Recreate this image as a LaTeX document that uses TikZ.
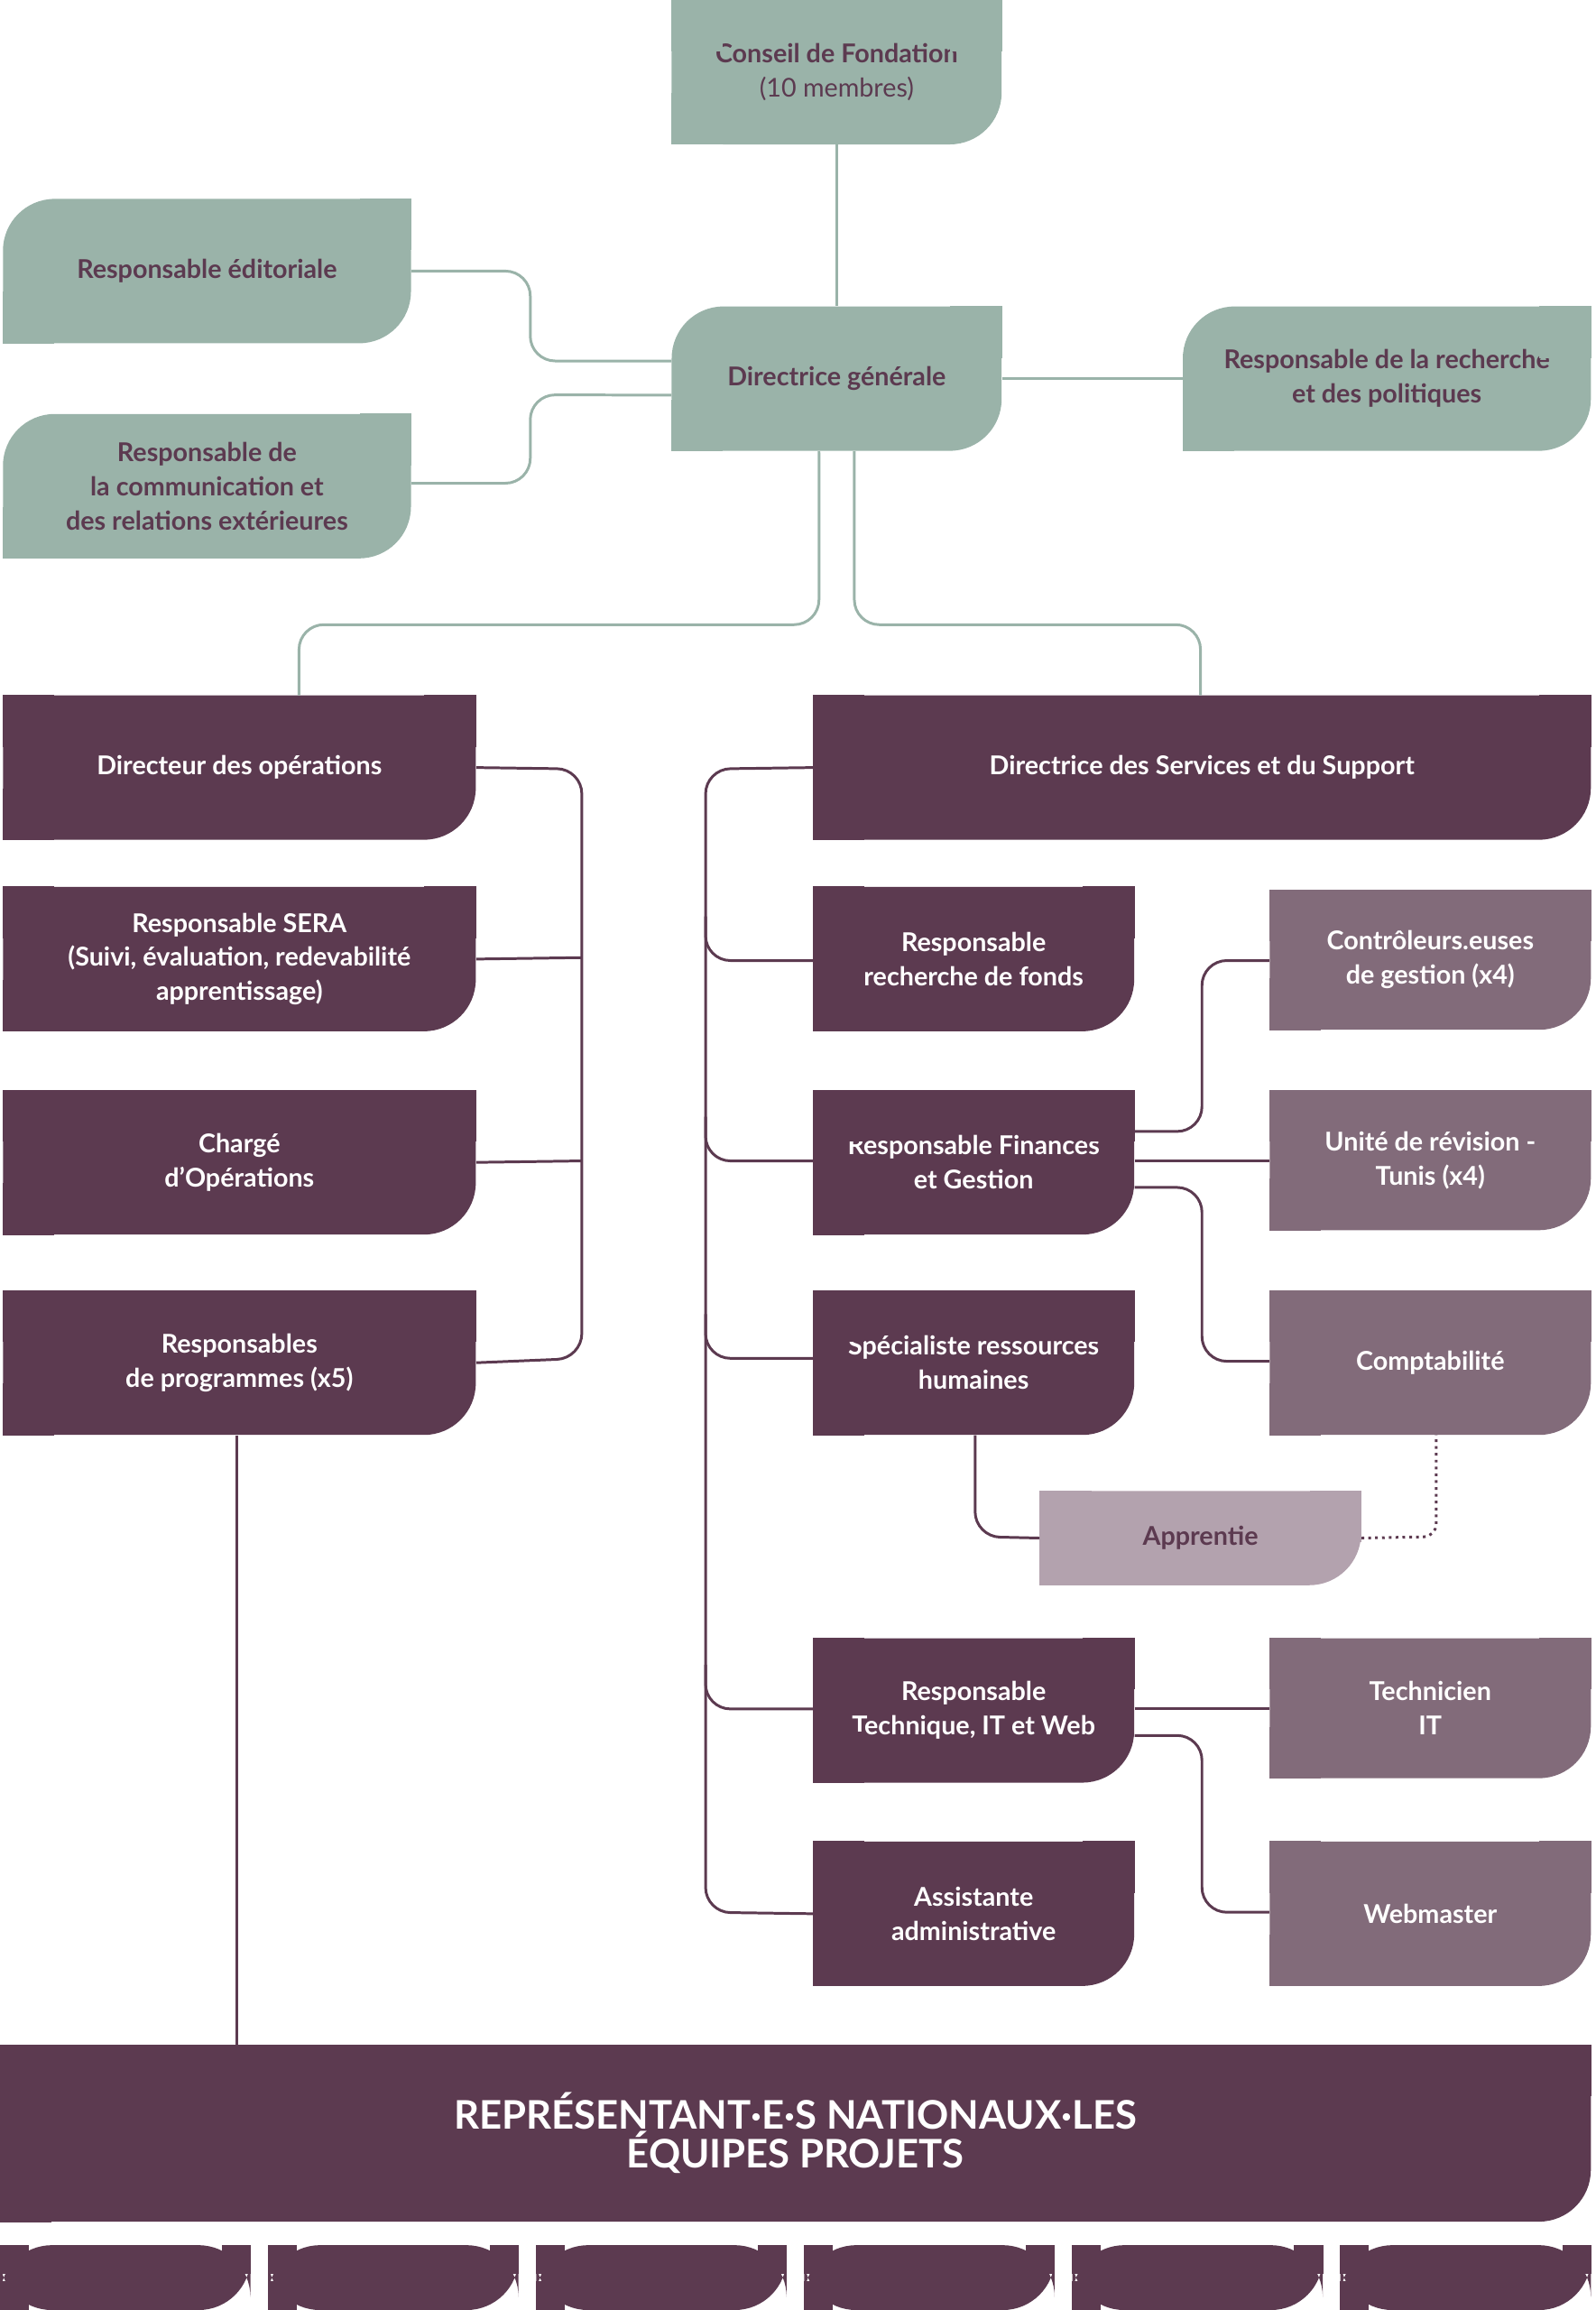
\documentclass[tikz,border=0pt]{standalone}
\usepackage{fontspec}
\setmainfont{Lato}
\usetikzlibrary{positioning}
\definecolor{vert}{HTML}{9AB3A9}
\definecolor{prune}{HTML}{5C3A50}
\definecolor{mauve}{HTML}{826B7A}
\definecolor{lilas}{HTML}{B3A2AE}
\tikzset{
  box/.style={rounded corners=25pt, inner sep=0pt, align=center, font=\bfseries\fontsize{12.5}{16.5}\selectfont},
  green/.style={box, fill=vert, text=prune},
  dark/.style={box, fill=prune, text=white},
  mid/.style={box, fill=mauve, text=white},
  light/.style={box, fill=lilas, text=prune},
  vlink/.style={draw=vert, line width=1.3pt, rounded corners=12pt},
  plink/.style={draw=prune, line width=1.3pt, rounded corners=12pt},
}
% name, x1, y1, x2, y2, style, text
\newcommand\orgnode[7]{%
  \node[#6, minimum width={(#4-#2)*0.025cm}, minimum height={(#5-#3)*0.025cm}]
    (#1) at ({(#2+#4)/2},{(#3+#5)/2}) {#7};}
% square corners: only bottom right stays round
\newcommand\squareall[3]{%
  \fill[#2] (#1.north west) rectangle ++(#3,-#3);
  \fill[#2] (#1.north east) rectangle ++(-#3,-#3);
  \fill[#2] (#1.south west) rectangle ++(#3,#3);}
% square corners: top left and bottom right stay round
\newcommand\squarepair[3]{%
  \fill[#2] (#1.north east) rectangle ++(-#3,-#3);
  \fill[#2] (#1.south west) rectangle ++(#3,#3);}
\begin{document}
\begin{tikzpicture}[x=0.025cm,y=-0.025cm]
  \useasboundingbox (0,0) rectangle (1083,1568);
  % direction
  \orgnode{conseil}{456}{0}{680}{98}{green}{Conseil de Fondation\\{\mdseries (10 membres)}}
  \orgnode{edito}{2}{135}{279}{233}{green}{Responsable éditoriale}
  \orgnode{dg}{456}{208}{680}{306}{green}{Directrice générale}
  \orgnode{recherche}{803}{208}{1080}{306}{green}{Responsable de la recherche\\et des politiques}
  \orgnode{comm}{2}{281}{279}{379}{green}{Responsable de\\la communication et\\des relations extérieures}
  \squareall{conseil}{vert}{25pt}
  \squarepair{edito}{vert}{25pt}
  \squarepair{dg}{vert}{25pt}
  \squarepair{recherche}{vert}{25pt}
  \squarepair{comm}{vert}{25pt}
  % operations
  \orgnode{dirops}{2}{472}{323}{570}{dark}{Directeur des opérations}
  \orgnode{sera}{2}{602}{323}{700}{dark}{Responsable SERA\\(Suivi, évaluation, redevabilité\\apprentissage)}
  \orgnode{charge}{2}{740}{323}{838}{dark}{Chargé\\d’Opérations}
  \orgnode{progs}{2}{876}{323}{974}{dark}{Responsables\\de programmes (x5)}
  % services
  \orgnode{dirserv}{552}{472}{1080}{570}{dark}{Directrice des Services et du Support}
  \orgnode{fonds}{552}{602}{770}{700}{dark}{Responsable\\recherche de fonds}
  \orgnode{finances}{552}{740}{770}{838}{dark}{Responsable Finances\\et Gestion}
  \orgnode{rh}{552}{876}{770}{974}{dark}{Spécialiste ressources\\humaines}
  \orgnode{tech}{552}{1112}{770}{1210}{dark}{Responsable\\Technique, IT et Web}
  \orgnode{assist}{552}{1250}{770}{1348}{dark}{Assistante\\administrative}
  \orgnode{controle}{862}{604}{1080}{699}{mid}{Contrôleurs.euses\\de gestion (x4)}
  \orgnode{revision}{862}{740}{1080}{835}{mid}{Unité de révision -\\Tunis (x4)}
  \orgnode{compta}{862}{876}{1080}{974}{mid}{Comptabilité}
  \orgnode{techit}{862}{1112}{1080}{1207}{mid}{Technicien\\IT}
  \orgnode{webm}{862}{1250}{1080}{1348}{mid}{Webmaster}
  \orgnode{apprentie}{706}{1012}{924}{1076}{light}{Apprentie}
  \foreach \n in {dirops,sera,charge,progs,dirserv,fonds,finances,rh,tech,assist}
    {\squareall{\n}{prune}{25pt}}
  \foreach \n in {controle,revision,compta,techit,webm}
    {\squareall{\n}{mauve}{25pt}}
  \squareall{apprentie}{lilas}{25pt}
  % equipes
  \orgnode{equipes}{0}{1388}{1080}{1508}{dark}{\fontsize{19}{27}\selectfont REPRÉSENTANT·E·S NATIONAUX·LES\\\fontsize{19}{27}\selectfont ÉQUIPES PROJETS}
  \squareall{equipes}{prune}{25pt}
  \foreach \x/\i in {0/1,182/2,364/3,546/4,728/5,910/6}{
    \orgnode{pays\i}{\x}{1524}{\x+170}{1568}{dark}{}
    \squareall{pays\i}{prune}{14pt}
  }
  % liens direction
  \draw[vlink] (conseil) -- (dg);
  \draw[vlink] ([yshift=0.3cm]dg.west) -- (360,245) -- (360,184) -- (edito.east |- 0,184);
  \draw[vlink] ([yshift=-0.28cm]dg.west) -- (360,268) -- (360,328) -- (comm.east |- 0,328);
  \draw[vlink] (dg) -- (recherche);
  \draw[vlink] ([xshift=-0.3cm]dg.south) -- (556,424) -- (203,424) -- (203,472);
  \draw[vlink] ([xshift=0.3cm]dg.south) -- (580,424) -- (815,424) -- (815,472);
  % liens operations
  \draw[plink] (dirops.east) -- (395,522) -- (395,922) -- (progs.east);
  \draw[plink] (sera.east) -- (395,650);
  \draw[plink] (charge.east) -- (395,788);
  \draw[plink] (progs.south -| 161,0) -- (161,1388);
  % liens services
  \draw[plink] (dirserv.west) -- (479,522) -- (479,1298) -- (assist.west);
  \foreach \n/\y in {fonds/652,finances/788,rh/922,tech/1160}
    {\draw[plink] (479,\y-30) -- (479,\y) -- (\n.west |- 0,\y);}
  \draw[plink] (finances.east |- 0,768) -- (816,768) -- (816,652) -- (controle.west |- 0,652);
  \draw[plink] (finances.east |- 0,788) -- (revision.west |- 0,788);
  \draw[plink] (finances.east |- 0,806) -- (816,806) -- (816,924) -- (compta.west |- 0,924);
  \draw[plink] (rh.south -| 662,0) -- (662,1043) -- (apprentie.west);
  \draw[plink, rounded corners=6pt, dotted] (apprentie.east) -- (975,1043) -- (975,974);
  \draw[plink] (tech.east |- 0,1160) -- (techit.west |- 0,1160);
  \draw[plink] (tech.east |- 0,1178) -- (816,1178) -- (816,1298) -- (webm.west |- 0,1298);
\end{tikzpicture}
\end{document}
